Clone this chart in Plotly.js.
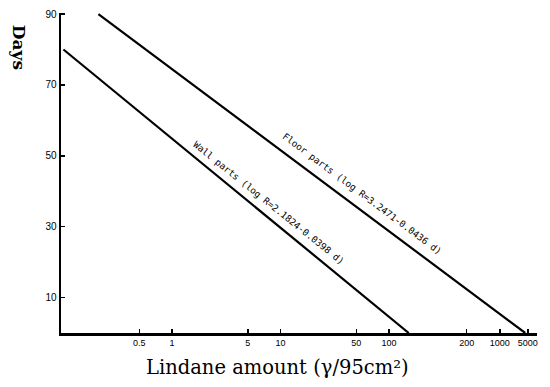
<!DOCTYPE html>
<html><head><meta charset="utf-8">
<script src="https://cdn.plot.ly/plotly-3.0.1.min.js"></script>
<style>html,body{margin:0;padding:0;background:#fff;}#chart{width:550px;height:387px;}</style>
</head><body><div id="chart"></div>
<script>
// Data
const wallDays = [0, 80];
const wallAmount = [152, 0.1];
const floorDays = [0, 90];
const floorAmount = [1800, 0.21];
const wallLabel = "Wall parts (log R=2.1824-0.0398 d)";
const floorLabel = "Floor parts (log R=3.2471-0.0436 d)";
// x tick labels (last three placed where the original drawing placed them)
const xTickVals = [0.5, 1, 5, 10, 50, 100, 520, 1050, 1900];
const xTickText = ["0.5", "1", "5", "10", "50", "100", "200", "1000", "5000"];
const yTickVals = [10, 30, 50, 70, 90];

const lineStyle = {color: '#000', width: 2.2};
const traces = [
  {x: wallAmount, y: wallDays, mode: 'lines', line: lineStyle, hoverinfo: 'skip'},
  {x: floorAmount, y: floorDays, mode: 'lines', line: lineStyle, hoverinfo: 'skip'}
];
const labelFont = {family: 'DejaVu Sans Mono, monospace', size: 9.3, color: '#000'};
const layout = {
  width: 550, height: 387,
  margin: {l: 61, r: 13, t: 13, b: 54},
  paper_bgcolor: '#fff', plot_bgcolor: '#fff',
  showlegend: false,
  font: {family: 'Liberation Sans, Arial, sans-serif', color: '#000', size: 9},
  xaxis: {
    type: 'log', range: [Math.log10(0.095), Math.log10(2310)],
    tickvals: xTickVals, ticktext: xTickText,
    ticks: 'inside', ticklen: 4, tickwidth: 1.5, tickcolor: '#000',
    showline: true, linecolor: '#000', linewidth: 2.5,
    showgrid: false, zeroline: false,
    tickfont: {size: 9, family: 'Liberation Sans, Arial, sans-serif'}
  },
  yaxis: {
    range: [0, 90.3],
    tickvals: yTickVals,
    ticks: 'inside', ticklen: 4, tickwidth: 1.5, tickcolor: '#000',
    showline: true, linecolor: '#000', linewidth: 2.5,
    showgrid: false, zeroline: false,
    tickfont: {size: 10, family: 'Liberation Sans, Arial, sans-serif'}
  },
  annotations: [
    {text: '<b>Days</b>', xref: 'paper', yref: 'paper', x: -0.088, y: 0.894, xanchor: 'center', yanchor: 'middle',
     textangle: 90, showarrow: false, font: {family: 'DejaVu Serif, serif', size: 17, color: '#000'}},
    {text: 'Lindane amount (γ/95cm²)', xref: 'paper', yref: 'paper', x: 0.454, y: -0.109, xanchor: 'center', yanchor: 'middle',
     showarrow: false, font: {family: 'DejaVu Serif, serif', size: 19.5, color: '#000'}},
    {text: wallLabel, xref: 'x', yref: 'y', x: Math.log10(7.35), y: 35.8, xanchor: 'center', yanchor: 'middle',
     xshift: 3, yshift: 4, textangle: 38.8, showarrow: false, font: labelFont},
    {text: floorLabel, xref: 'x', yref: 'y', x: Math.log10(52.9), y: 38.1, xanchor: 'center', yanchor: 'middle',
     xshift: 3, yshift: 4, textangle: 36.8, showarrow: false, font: labelFont}
  ]
};
Plotly.newPlot('chart', traces, layout, {staticPlot: true, displayModeBar: false});
</script></body></html>
